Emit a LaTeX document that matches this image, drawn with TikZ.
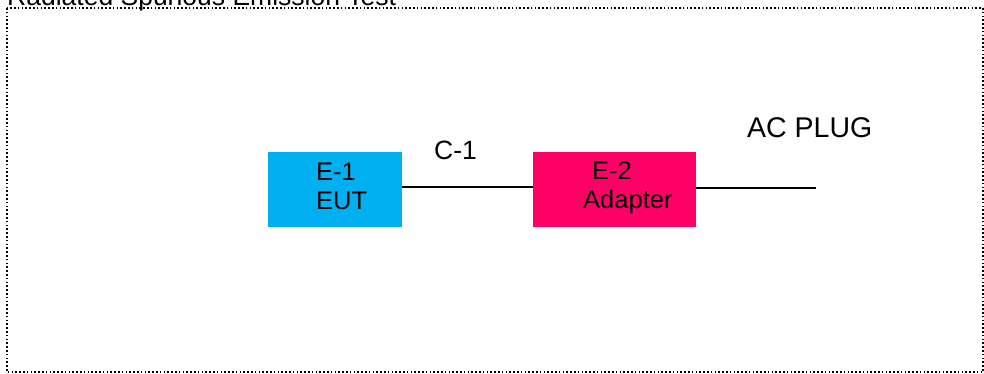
\documentclass[tikz,border=0pt]{standalone}
\usepackage{fontspec}
\setmainfont{Liberation Sans}
\definecolor{eutblue}{HTML}{00B0F0}
\definecolor{adpink}{HTML}{FF0066}
\begin{document}
\begin{tikzpicture}[x=1pt,y=-1pt,
  box/.style={draw=none,inner sep=0pt,outer sep=0pt},
  lbl/.style={inner sep=0pt,anchor=base west,font=\fontsize{25.5}{29}\selectfont},
  biglbl/.style={inner sep=0pt,anchor=base west,font=\fontsize{26.5}{30}\selectfont},
  wire/.style={line width=2pt,black}]
\useasboundingbox (0,0) rectangle (984,374);
\draw[line width=1.3pt,dash pattern=on 1.6pt off 2.2pt] (7,8) rectangle (983,372);
\node[biglbl] (title) at (7,6) {Radiated Spurious Emission Test};
\path[fill=eutblue] (268,152) rectangle (402,227);
\node[box,minimum width=134pt,minimum height=75pt] (e1) at (335,189.5) {};
\path[fill=adpink] (533,152) rectangle (696,227);
\node[box,minimum width=163pt,minimum height=75pt] (e2) at (614.5,189.5) {};
\node[lbl] (e1a) at (316,180) {E-1};
\node[lbl] (e1b) at (316,209) {EUT};
\node[lbl] (e2a) at (592,179) {E-2};
\node[lbl] (e2b) at (583,208) {Adapter};
\node[biglbl] (c1) at (434,160) {C-1};
\node[biglbl,font=\fontsize{28.5}{32}\selectfont] (ac) at (747,138) {AC PLUG};
\coordinate (plug) at (816,188);
\draw[wire] ([yshift=2.5pt]e1.east) -- ([yshift=2.5pt]e2.west);
\draw[wire] (e2.east |- plug) -- (plug);
\end{tikzpicture}
\end{document}
